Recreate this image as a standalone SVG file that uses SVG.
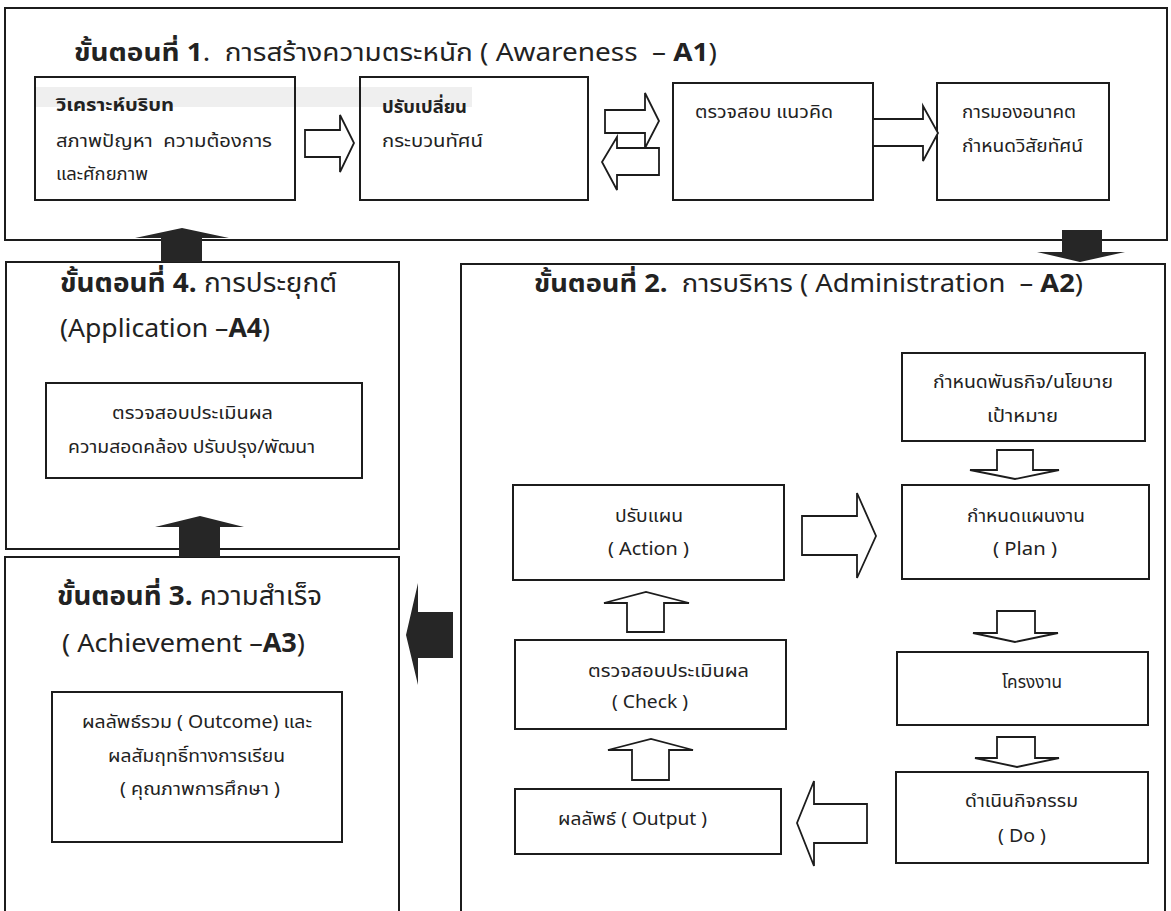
<svg xmlns="http://www.w3.org/2000/svg" width="1171" height="911" viewBox="0 0 1171 911">
<style>
.frame{fill:none;stroke:#1c1c1c;stroke-width:2}
.box{fill:#fff;stroke:#1c1c1c;stroke-width:2}
.hollow{fill:#fff;stroke:#1c1c1c;stroke-width:1.8;stroke-linejoin:miter}
.hl{fill:none;stroke:#1c1c1c;stroke-width:1.8}
.solid{fill:#262626}
.t{font-family:"Noto Sans Thai","Noto Sans","DejaVu Sans",sans-serif;fill:#222;white-space:pre}
.title{font-size:25px}
.big{font-size:26px}
.lbl{font-size:18px}
.b{font-weight:bold}
.m{text-anchor:middle}
</style>
<rect width="1171" height="911" fill="#fff"/>

<g id="stage-a1">
<rect class="frame" x="5" y="8" width="1162" height="232"/>
<text class="t title" x="74" y="61" textLength="643" lengthAdjust="spacingAndGlyphs"><tspan class="b">ขั้นตอนที่ 1</tspan>.  การสร้างความตระหนัก ( Awareness  – <tspan class="b">A1</tspan>)</text>
</g>
<rect x="35" y="87" width="437" height="20" fill="#efefef"/>
<g id="a1-context">
<rect class="box" x="35" y="77" width="260" height="123" fill-opacity="0"/>
<text class="t lbl b" x="56" y="111" textLength="118" lengthAdjust="spacingAndGlyphs">วิเคราะห์บริบท</text>
<text class="t lbl" x="56" y="147" textLength="216" lengthAdjust="spacingAndGlyphs">สภาพปัญหา  ความต้องการ</text>
<text class="t lbl" x="56" y="180" textLength="92" lengthAdjust="spacingAndGlyphs">และศักยภาพ</text>
</g>
<g id="a1-paradigm">
<rect class="box" x="360" y="77" width="228" height="123" fill-opacity="0"/>
<text class="t lbl b" x="382" y="113" textLength="85" lengthAdjust="spacingAndGlyphs">ปรับเปลี่ยน</text>
<text class="t lbl" x="382" y="147" textLength="101" lengthAdjust="spacingAndGlyphs">กระบวนทัศน์</text>
</g>
<g id="a1-concept">
<rect class="box" x="673" y="83" width="200" height="117"/>
<text class="t lbl" x="695" y="118" textLength="138" lengthAdjust="spacingAndGlyphs">ตรวจสอบ แนวคิด</text>
</g>
<g id="a1-vision">
<rect class="box" x="937" y="83" width="172" height="117"/>
<text class="t lbl" x="962" y="118" textLength="114" lengthAdjust="spacingAndGlyphs">การมองอนาคต</text>
<text class="t lbl" x="962" y="152" textLength="121" lengthAdjust="spacingAndGlyphs">กำหนดวิสัยทัศน์</text>
</g>

<g id="stage-a4">
<rect class="frame" x="6" y="262" width="393" height="287"/>
<text class="t big" x="60" y="292" textLength="277" lengthAdjust="spacingAndGlyphs"><tspan class="b">ขั้นตอนที่ 4.</tspan> การประยุกต์</text>
<text class="t big" x="60" y="337" textLength="210" lengthAdjust="spacingAndGlyphs">(Application –<tspan class="b">A4</tspan>)</text>
</g>
<g id="a4-evaluate">
<rect class="box" x="46" y="383" width="316" height="95"/>
<text class="t lbl" x="112" y="419" textLength="161" lengthAdjust="spacingAndGlyphs">ตรวจสอบประเมินผล</text>
<text class="t lbl" x="68" y="453" textLength="247" lengthAdjust="spacingAndGlyphs">ความสอดคล้อง ปรับปรุง/พัฒนา</text>
</g>

<g id="stage-a3">
<path class="frame" d="M5,915 V557 H399 V915"/>
<text class="t big" x="57" y="605" textLength="265" lengthAdjust="spacingAndGlyphs"><tspan class="b">ขั้นตอนที่ 3.</tspan> ความสำเร็จ</text>
<text class="t big" x="62" y="652" textLength="243" lengthAdjust="spacingAndGlyphs">( Achievement –<tspan class="b">A3</tspan>)</text>
</g>
<g id="a3-outcome">
<rect class="box" x="52" y="692" width="290" height="150"/>
<text class="t lbl" x="82" y="728" textLength="230" lengthAdjust="spacingAndGlyphs">ผลลัพธ์รวม ( Outcome) และ</text>
<text class="t lbl" x="108" y="762" textLength="177" lengthAdjust="spacingAndGlyphs">ผลสัมฤทธิ์ทางการเรียน</text>
<text class="t lbl" x="120" y="795" textLength="160" lengthAdjust="spacingAndGlyphs">( คุณภาพการศึกษา )</text>
</g>

<g id="stage-a2">
<path class="frame" d="M461,915 V264 H1165 V915"/>
<text class="t title" x="534" y="292" textLength="549" lengthAdjust="spacingAndGlyphs"><tspan class="b">ขั้นตอนที่ 2.</tspan>  การบริหาร ( Administration  – <tspan class="b">A2</tspan>)</text>
</g>
<g id="a2-mission">
<rect class="box" x="902" y="353" width="243" height="88"/>
<text class="t lbl" x="933" y="388" textLength="180" lengthAdjust="spacingAndGlyphs">กำหนดพันธกิจ/นโยบาย</text>
<text class="t lbl" x="987" y="422" textLength="71" lengthAdjust="spacingAndGlyphs">เป้าหมาย</text>
</g>
<g id="a2-plan">
<rect class="box" x="902" y="485" width="247" height="94"/>
<text class="t lbl" x="967" y="522" textLength="118" lengthAdjust="spacingAndGlyphs">กำหนดแผนงาน</text>
<text class="t lbl" x="993" y="555" textLength="64" lengthAdjust="spacingAndGlyphs">( Plan )</text>
</g>
<g id="a2-project">
<rect class="box" x="897" y="652" width="251" height="73"/>
<text class="t lbl" x="1002" y="688" textLength="60" lengthAdjust="spacingAndGlyphs">โครงงาน</text>
</g>
<g id="a2-do">
<rect class="box" x="896" y="772" width="252" height="91"/>
<text class="t lbl" x="965" y="807" textLength="113" lengthAdjust="spacingAndGlyphs">ดำเนินกิจกรรม</text>
<text class="t lbl" x="998" y="842" textLength="48" lengthAdjust="spacingAndGlyphs">( Do )</text>
</g>
<g id="a2-output">
<rect class="box" x="515" y="789" width="266" height="65"/>
<text class="t lbl" x="558" y="825" textLength="149" lengthAdjust="spacingAndGlyphs">ผลลัพธ์ ( Output )</text>
</g>
<g id="a2-check">
<rect class="box" x="515" y="640" width="271" height="89"/>
<text class="t lbl" x="588" y="677" textLength="161" lengthAdjust="spacingAndGlyphs">ตรวจสอบประเมินผล</text>
<text class="t lbl" x="612" y="708" textLength="76" lengthAdjust="spacingAndGlyphs">( Check )</text>
</g>
<g id="a2-action">
<rect class="box" x="513" y="485" width="271" height="95"/>
<text class="t lbl" x="615" y="522" textLength="68" lengthAdjust="spacingAndGlyphs">ปรับแผน</text>
<text class="t lbl" x="608" y="555" textLength="81" lengthAdjust="spacingAndGlyphs">( Action )</text>
</g>

<g id="connectors">
<polygon class="hollow" points="305,130 340,130 340,115 354,143 340,172 340,157 305,157"/>
<polygon class="hl" points="605,110 645,110 645,93 659,121 645,148 645,133 605,133"/>
<polygon class="hl" points="659,148 617,148 617,137 602,162 617,190 617,175 659,175"/>
<polygon class="hollow" points="873,119 923,119 923,106 938,133 923,161 923,146 873,146"/>
<polygon class="solid" points="1062,230 1102,230 1102,252 1125,252 1080,262 1037,252 1062,252"/>
<polygon class="solid" points="161,262 161,238 135,238 182,228 229,238 202,238 202,262"/>
<polygon class="solid" points="179,557 179,527 155,527 200,516 244,527 220,527 220,557"/>
<polygon class="solid" points="453,612 418,612 418,583 406,635 418,685 418,658 453,658"/>
<polygon class="hollow" points="997,450 1033,450 1033,470 1059,470 1015,479 970,470 997,470"/>
<polygon class="hollow" points="802,516 857,516 857,493 876,536 857,578 857,555 802,555"/>
<polygon class="hollow" points="997,611 1035,611 1035,633 1058,633 1015,642 973,633 997,633"/>
<polygon class="hollow" points="997,737 1035,737 1035,758 1059,758 1017,767 975,758 997,758"/>
<polygon class="hollow" points="867,804 814,804 814,781 797,823 814,866 814,843 867,843"/>
<polygon class="hollow" points="632,780 632,750 608,750 651,739 693,750 669,750 669,780"/>
<polygon class="hollow" points="627,632 627,603 604,603 646,592 689,603 664,603 664,632"/>
</g>
</svg>
